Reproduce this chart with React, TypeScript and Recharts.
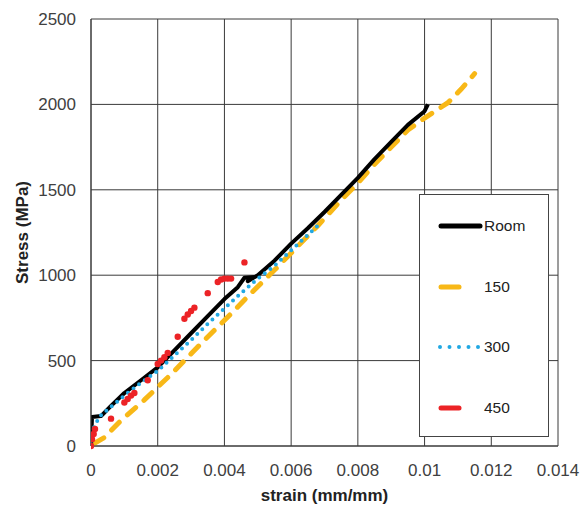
import React from "react";
import { LineChart, Line, XAxis, YAxis, CartesianGrid, Legend } from "recharts";

// Room temperature
const roomStrain = [0, 0.00003, 0.0003, 0.0006, 0.001, 0.0015, 0.002, 0.0025, 0.003, 0.0035, 0.004, 0.0044, 0.0046, 0.0049, 0.0047, 0.005, 0.0055, 0.006, 0.0065, 0.007, 0.0075, 0.008, 0.0085, 0.009, 0.0095, 0.01, 0.0101];
const roomStress = [0, 170, 175, 235, 310, 385, 460, 560, 660, 760, 860, 930, 985, 990, 965, 1000, 1085, 1185, 1275, 1370, 1470, 1570, 1680, 1780, 1880, 1960, 2000];

// 150 C
const s150Strain = [0.0001, 0.0004, 0.0009, 0.0016, 0.0024, 0.003, 0.0034, 0.0041, 0.0048, 0.0055, 0.006, 0.0068, 0.0075, 0.008, 0.0085, 0.009, 0.0095, 0.01, 0.0107, 0.0111, 0.0115];
const s150Stress = [15, 50, 150, 270, 420, 540, 620, 755, 895, 1030, 1130, 1290, 1440, 1540, 1650, 1750, 1850, 1920, 2010, 2090, 2180];

// 300 C
const s300Strain = [0, 0.0001, 0.0003, 0.0006, 0.001, 0.0015, 0.002, 0.0025, 0.003, 0.0035, 0.004, 0.0045, 0.005, 0.0055, 0.006, 0.0065, 0.0068];
const s300Stress = [30, 120, 180, 230, 295, 370, 440, 530, 620, 715, 805, 895, 980, 1055, 1145, 1235, 1290];

// 450 C
const s450Strain = [0, 0.00003, 0.00008, 0.00012, 0.0006, 0.001, 0.0011, 0.0012, 0.0013, 0.0017, 0.002, 0.0021, 0.0022, 0.0023, 0.0026, 0.0028, 0.0029, 0.003, 0.0031, 0.0035, 0.0038, 0.0039, 0.004, 0.0041, 0.0042, 0.0046];
const s450Stress = [0, 40, 70, 100, 160, 255, 275, 295, 310, 385, 480, 500, 520, 545, 640, 745, 770, 790, 810, 895, 960, 975, 980, 980, 980, 1075];

const xTicks = [0, 0.002, 0.004, 0.006, 0.008, 0.01, 0.012, 0.014];
const yTicks = [0, 500, 1000, 1500, 2000, 2500];

const series = [
  { name: "Room", color: "#000000" },
  { name: "150", color: "#F8B817" },
  { name: "300", color: "#21A8E3" },
  { name: "450", color: "#EC2326" },
];

const zip = (xs: number[], ys: number[]) => xs.map((x, i) => ({ x, y: ys[i] }));

const roomData = zip(roomStrain, roomStress);
const data150 = zip(s150Strain, s150Stress);
const data300 = zip(s300Strain, s300Stress);
const data450 = zip(s450Strain, s450Stress);

const FONT = "'Liberation Sans', Arial, sans-serif";

function LegendBox() {
  const sample = (i: number) => {
    const c = series[i].color;
    if (i === 0) return <line x1={3} x2={42} y1={6} y2={6} stroke={c} strokeWidth={5} strokeLinecap="round" />;
    if (i === 2) return <line x1={2} x2={44} y1={6} y2={6} stroke={c} strokeWidth={4} strokeDasharray="0 9.5" strokeLinecap="round" />;
    return <line x1={3} x2={21} y1={6} y2={6} stroke={c} strokeWidth={5} strokeLinecap="round" />;
  };
  return (
    <div style={{ width: 130, height: 243, border: "1px solid #444", background: "#fff", boxSizing: "border-box", position: "relative", fontFamily: FONT }}>
      {series.map((s, i) => (
        <div key={s.name} style={{ position: "absolute", left: 18, top: 24 + i * 60.7, display: "flex", alignItems: "center", height: 14 }}>
          <svg width={46} height={12} style={{ display: "block" }}>{sample(i)}</svg>
          <span style={{ fontSize: 15.5, color: "#222", marginLeft: 0 }}>{s.name}</span>
        </div>
      ))}
    </div>
  );
}

export default function App() {
  return (
    <div style={{ position: "absolute", left: 0, top: 0, width: 587, height: 509, background: "#fff" }}>
      <LineChart width={587} height={509} margin={{ top: 19, right: 29, bottom: 0, left: 0 }}>
        <CartesianGrid stroke="#3a3a3a" strokeWidth={1} horizontal vertical />
        <XAxis
          type="number"
          dataKey="x"
          domain={[0, 0.014]}
          ticks={xTicks}
          allowDataOverflow
          height={63}
          tickLine={false}
          tickMargin={12}
          axisLine={{ stroke: "#3a3a3a" }}
          tick={{ fontSize: 17, fill: "#404040", fontFamily: FONT }}
          label={{
            content: (props: any) => {
              const vb = props.viewBox;
              return (
                <text x={vb.x + vb.width / 2} y={vb.y + 55} textAnchor="middle" fontSize={17} fontWeight="bold" fill="#222" fontFamily={FONT}>
                  strain (mm/mm)
                </text>
              );
            },
          }}
        />
        <YAxis
          type="number"
          dataKey="y"
          domain={[0, 2500]}
          ticks={yTicks}
          width={91}
          tickLine={false}
          tickMargin={9}
          axisLine={{ stroke: "#3a3a3a" }}
          tick={{ fontSize: 17, fill: "#404040", fontFamily: FONT }}
          label={{
            content: (props: any) => {
              const vb = props.viewBox;
              const cx = vb.x + 22;
              const cy = vb.y + vb.height / 2;
              return (
                <text x={cx} y={cy} textAnchor="middle" dominantBaseline="central" transform={`rotate(-90 ${cx} ${cy})`} fontSize={17} fontWeight="bold" fill="#222" fontFamily={FONT}>
                  Stress (MPa)
                </text>
              );
            },
          }}
        />
        <Legend
          layout="horizontal"
          verticalAlign="middle"
          align="center"
          wrapperStyle={{ position: "absolute", left: 419, top: 194, width: 130, height: 243 }}
          content={() => <LegendBox />}
        />
        <Line data={data150} dataKey="y" name="150" type="linear" stroke={series[1].color} strokeWidth={5} strokeDasharray="11 11" strokeLinecap="round" dot={false} isAnimationActive={false} />
        <Line data={data450} dataKey="y" name="450" type="linear" stroke="none" dot={{ r: 3.2, fill: series[3].color, stroke: "none" }} isAnimationActive={false} />
        <Line data={roomData} dataKey="y" name="Room" type="linear" stroke={series[0].color} strokeWidth={4} strokeLinejoin="round" dot={false} isAnimationActive={false} />
        <Line data={data300} dataKey="y" name="300" type="linear" stroke={series[2].color} strokeWidth={4} strokeDasharray="0 7" strokeLinecap="round" dot={false} isAnimationActive={false} />
      </LineChart>
    </div>
  );
}
